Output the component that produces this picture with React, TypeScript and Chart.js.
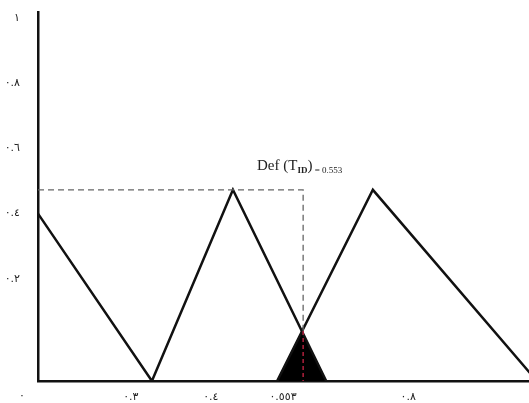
import React, { useEffect, useRef } from "react";
import { Chart, registerables } from "chart.js";

Chart.register(...registerables);

// ---- data (x: position along the horizontal axis, 0 = y-axis, 1 = right edge; y: membership) ----
const Y_MIN = -0.113;
const Y_MAX = 1.018;
const X_MIN = 0;
const X_MAX = 1;

const Y_TICKS = [0.2, 0.4, 0.6, 0.8, 1];
const Y_LABELS = ["٠.٢", "٠.٤", "٠.٦", "٠.٨", "١"];

const X_TICKS = [0.189, 0.352, 0.499, 0.754];
const X_LABELS = ["٠.٣", "٠.٤", "٠.٥٥٣", "٠.٨"];
const ORIGIN_LABEL = "٠";

// first falling line + second triangle
const SERIES_A_X = [0, 0.232, 0.397, 0.587];
const SERIES_A_Y = [0.4, Y_MIN, 0.473, Y_MIN];
// third triangle
const SERIES_B_X = [0.487, 0.682, 1.016];
const SERIES_B_Y = [Y_MIN, 0.473, Y_MIN];
// filled intersection area
const FILL_X = [0.487, 0.5375, 0.587];
const FILL_Y = [Y_MIN, 0.04, Y_MIN];
// defuzzified value guide lines
const GUIDE_X = [0, 0.54, 0.54];
const GUIDE_Y = [0.473, 0.473, 0.04];
const RED_X = [0.54, 0.54];
const RED_Y = [0.04, Y_MIN];

const ANNOT_X = 0.446;
const ANNOT_Y = 0.534;

const pts = (xs: number[], ys: number[]) => xs.map((x, i) => ({ x, y: ys[i] }));

const textPlugin = {
  id: "extraText",
  afterDraw(chart: any) {
    const { ctx, chartArea, scales } = chart;
    ctx.save();
    // origin label
    ctx.fillStyle = "#222";
    ctx.font = '11px "DejaVu Sans"';
    ctx.textAlign = "center";
    ctx.textBaseline = "middle";
    ctx.fillText(ORIGIN_LABEL, chartArea.left - 16, chartArea.bottom + 15);

    // annotation
    let x = scales.x.getPixelForValue(ANNOT_X);
    const y = scales.y.getPixelForValue(ANNOT_Y);
    ctx.textAlign = "left";
    ctx.textBaseline = "alphabetic";
    const parts: [string, string, number][] = [
      ["Def (T", '15px "Liberation Serif"', 0],
      ["ID", 'bold 9px "Liberation Serif"', 3],
      [")", '15px "Liberation Serif"', 0],
      [" = 0.553", '9px "Liberation Serif"', 3],
    ];
    for (const [t, f, dy] of parts) {
      ctx.font = f;
      ctx.fillText(t, x, y + dy);
      x += ctx.measureText(t).width;
    }
    ctx.restore();
  },
};

export default function App() {
  const ref = useRef<HTMLCanvasElement | null>(null);
  useEffect(() => {
    if (!ref.current) return;
    const chart = new Chart(ref.current, {
      type: "line",
      data: {
        datasets: [
          {
            data: pts(RED_X, RED_Y),
            borderColor: "#b0203c",
            borderWidth: 1.5,
            borderDash: [4, 3],
            pointRadius: 0,
            fill: false,
            order: 0,
          },
          {
            data: pts(GUIDE_X, GUIDE_Y),
            borderColor: "#666",
            borderWidth: 1.3,
            borderDash: [6, 4],
            pointRadius: 0,
            fill: false,
            order: 1,
          },
          {
            data: pts(SERIES_A_X, SERIES_A_Y),
            borderColor: "#111",
            borderWidth: 2.5,
            borderJoinStyle: "miter",
            pointRadius: 0,
            fill: false,
            order: 2,
          },
          {
            data: pts(SERIES_B_X, SERIES_B_Y),
            borderColor: "#111",
            borderWidth: 2.5,
            borderJoinStyle: "miter",
            pointRadius: 0,
            fill: false,
            order: 3,
          },
          {
            data: pts(FILL_X, FILL_Y),
            borderColor: "#000",
            backgroundColor: "#000",
            borderWidth: 1,
            pointRadius: 0,
            fill: "start",
            order: 4,
          },
        ],
      },
      options: {
        animation: false,
        responsive: true,
        maintainAspectRatio: false,
        layout: { padding: { top: 12, left: 0, right: 0, bottom: 0 } },
        plugins: { legend: { display: false }, tooltip: { enabled: false } },
        scales: {
          x: {
            type: "linear",
            min: X_MIN,
            max: X_MAX,
            grid: { display: false },
            border: { display: true, color: "#111", width: 2.5 },
            afterBuildTicks: (s: any) => {
              s.ticks = X_TICKS.map((v) => ({ value: v }));
            },
            afterFit: (s: any) => {
              s.height = 22;
              s.paddingLeft = 0;
              s.paddingRight = 0;
            },
            ticks: {
              autoSkip: false,
              maxRotation: 0,
              padding: 2,
              color: "#222",
              font: { family: "DejaVu Sans", size: 11 },
              callback: (_v: any, i: number) => X_LABELS[i],
            },
          },
          y: {
            type: "linear",
            min: Y_MIN,
            max: Y_MAX,
            grid: { display: false },
            border: { display: true, color: "#111", width: 2.5 },
            afterBuildTicks: (s: any) => {
              s.ticks = Y_TICKS.map((v) => ({ value: v }));
            },
            afterFit: (s: any) => {
              s.width = 38;
              s.paddingTop = 0;
              s.paddingBottom = 0;
            },
            ticks: {
              autoSkip: false,
              padding: 10,
              color: "#222",
              font: { family: "DejaVu Sans", size: 11 },
              callback: (_v: any, i: number) => Y_LABELS[i],
            },
          },
        },
      },
      plugins: [textPlugin],
    } as any);
    return () => chart.destroy();
  }, []);
  return (
    <div style={{ position: "fixed", left: 0, top: 0, width: 529, height: 403, background: "#fff" }}>
      <canvas ref={ref} />
    </div>
  );
}
